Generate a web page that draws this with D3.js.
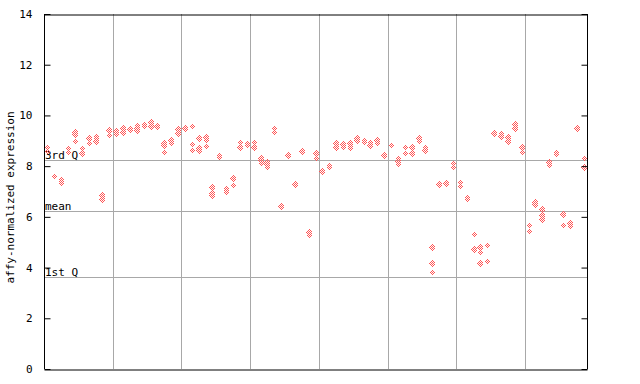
<!DOCTYPE html>
<html><head><meta charset="utf-8">
<script src="https://cdn.jsdelivr.net/npm/d3@7"></script>
<style>body{margin:0;background:#fff}svg{display:block}text{font-family:"DejaVu Sans Mono",monospace}</style>
</head><body>
<svg id="c" width="640" height="384"></svg>
<script>
// sample index (x position) and replicate values
const samples = d3.range(79);
const rep1 = [8.77,7.61,7.5,8.7,9.36,8.7,9.12,9.2,6.85,9.42,9.4,9.56,9.5,9.62,9.65,9.74,9.64,8.9,9.05,9.45,
  9.55,9.58,9.1,9.15,7.19,8.45,7.13,7.55,8.94,8.9,8.96,8.31,8.18,9.49,6.47,8.48,7.3,8.6,5.41,8.5,
  7.82,8.04,8.9,8.87,8.9,9.1,9.03,8.96,9.03,8.44,8.83,8.31,8.74,8.77,9.1,8.77,4.8,7.3,7.32,8.11,
  7.39,6.8,5.32,4.8,4.89,9.36,9.29,9.16,9.65,8.77,5.68,6.6,6.3,8.18,8.55,6.11,5.77,9.53,8.31];
const rep2 = [8.6,null,7.42,8.55,9.28,8.57,9.08,9.1,6.7,9.23,9.35,9.5,9.45,9.5,9.58,9.6,9.58,8.85,8.92,9.35,
  9.5,8.86,8.7,9.03,6.93,8.35,7.05,7.26,8.8,8.82,8.8,8.25,8.08,9.36,6.43,8.45,7.25,8.55,5.28,8.31,
  7.78,7.95,8.77,8.74,8.8,9.05,8.96,8.83,8.9,8.4,null,8.2,8.5,8.72,9.0,8.64,4.17,7.25,7.28,7.95,
  7.22,6.69,4.76,4.6,4.27,9.3,9.19,8.99,9.49,8.54,5.45,6.52,6.07,8.04,8.48,5.68,5.64,9.5,7.95];
const rep3 = [null,null,7.32,null,8.99,8.5,8.9,9.0,null,null,9.25,9.33,null,9.42,null,null,null,8.55,null,9.3,
  null,8.64,8.62,8.79,6.88,null,7.0,null,8.75,null,8.77,8.11,7.98,null,null,null,null,null,null,null,
  null,null,8.73,null,8.7,null,null,null,null,null,null,8.07,null,8.5,null,null,3.81,null,null,null,
  null,null,4.72,4.17,null,null,null,null,null,null,null,null,5.9,null,null,null,null,null,null];
const statValues = [8.24, 6.23, 3.63];
const statLabels = ["3rd Q", "mean", "1st Q"];
const yTicks = [0,2,4,6,8,10,12,14];
const groupBreaks = [9.5,19.5,29.5,39.5,49.5,59.5,69.5];
const yTitle = "affy-normalized expression";

const svg = d3.select("#c");
const L=44, R=587, T=14, B=369;
const x = d3.scaleLinear().domain([-0.5,78.5]).range([L,R]);
const y = d3.scaleLinear().domain([0,14]).range([B,T]);
const red = "#ff5555", grid = "#a8a8a8";

const defs = svg.append("defs");
const pat = defs.append("pattern").attr("id","chk").attr("patternUnits","userSpaceOnUse")
  .attr("width",2).attr("height",2);
pat.append("rect").attr("x",0).attr("y",0).attr("width",1).attr("height",1).attr("fill",red);
pat.append("rect").attr("x",1).attr("y",1).attr("width",1).attr("height",1).attr("fill",red);

// grid
svg.append("g").selectAll("line").data(groupBreaks).join("line")
  .attr("x1",d=>Math.round(x(d))+0.5).attr("x2",d=>Math.round(x(d))+0.5)
  .attr("y1",T).attr("y2",B).attr("stroke",grid).attr("stroke-width",1);
svg.append("g").selectAll("line").data(statValues).join("line")
  .attr("x1",L).attr("x2",R).attr("y1",d=>Math.round(y(d))+0.5).attr("y2",d=>Math.round(y(d))+0.5)
  .attr("stroke",grid).attr("stroke-width",1);
svg.append("g").selectAll("text").data(statValues).join("text")
  .attr("x",L+1).attr("y",d=>Math.round(y(d))-1).attr("font-size",11).attr("fill","#000")
  .text((d,i)=>statLabels[i]);

// points
const pts = [];
samples.forEach(i=>{[rep1,rep2,rep3].forEach(r=>{if(r[i]!=null) pts.push([i,r[i]]);});});
svg.append("g").selectAll("path").data(pts).join("path")
  .attr("d",d=>{const cx=Math.round(x(d[0])), cy=Math.round(y(d[1]));
    return `M${cx+0.5},${cy-3}L${cx+3.5},${cy+0.5}L${cx+0.5},${cy+4}L${cx-2.5},${cy+0.5}Z`;})
  .attr("fill","url(#chk)").attr("shape-rendering","crispEdges");

// axes
const yl = svg.append("g").attr("transform",`translate(${L+0.5},0)`)
  .call(d3.axisLeft(y).tickValues(yTicks).tickSize(-6).tickPadding(12).tickFormat(d3.format("d")));
const yr = svg.append("g").attr("transform",`translate(${R+0.5},0)`)
  .call(d3.axisRight(y).tickValues(yTicks).tickSize(-6).tickFormat(""));
const xb = svg.append("g").attr("transform",`translate(0,${B+0.5})`)
  .call(d3.axisBottom(x).tickValues([]).tickSizeOuter(0));
const xt = svg.append("g").attr("transform",`translate(0,${T+0.5})`)
  .call(d3.axisTop(x).tickValues([]).tickSizeOuter(0));
[yl,yr,xb,xt].forEach(g=>{g.select(".domain").attr("stroke","#000");
  g.selectAll(".tick line").attr("stroke","#000");
  g.selectAll("text").attr("font-family","DejaVu Sans Mono").attr("font-size",11).attr("fill","#000");});
yl.select(".domain").attr("d",`M0,${T}V${B}`);
yr.select(".domain").attr("d",`M0,${T}V${B}`);

svg.append("text").attr("transform",`translate(14,${(T+B)/2+6}) rotate(-90)`)
  .attr("text-anchor","middle").attr("font-size",11).attr("fill","#000").text(yTitle);
</script>
</body></html>
